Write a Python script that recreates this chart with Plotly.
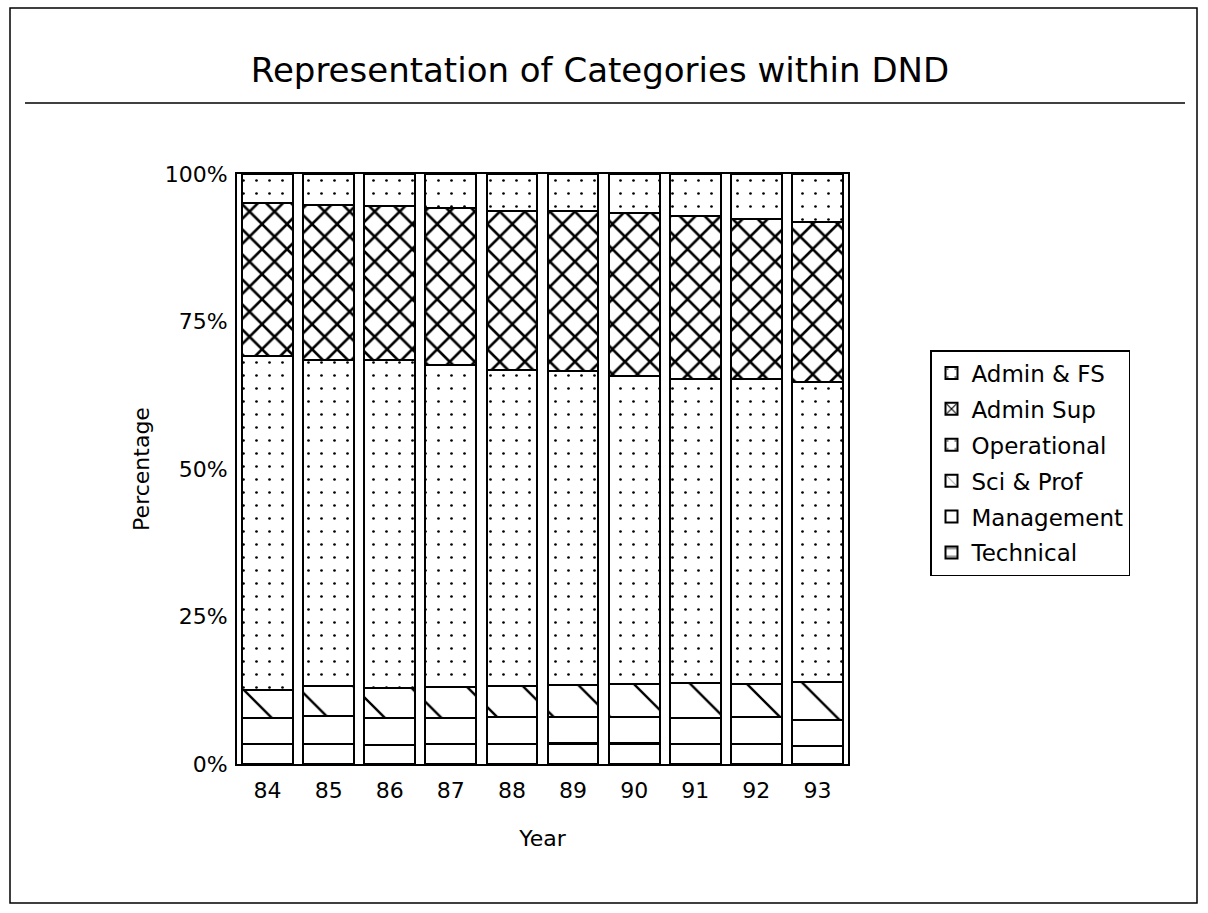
import plotly.graph_objects as go

# Share of each occupational category (percent of DND workforce), by fiscal year
years = ["84", "85", "86", "87", "88", "89", "90", "91", "92", "93"]
technical = [3.4, 3.4, 3.2, 3.4, 3.4, 3.5, 3.5, 3.4, 3.4, 3.0]
management = [4.4, 4.7, 4.6, 4.4, 4.6, 4.4, 4.4, 4.4, 4.5, 4.5]
sci_prof = [4.7, 5.1, 5.1, 5.2, 5.2, 5.4, 5.6, 5.9, 5.7, 6.4]
operational = [56.7, 55.3, 55.6, 54.7, 53.6, 53.2, 52.4, 51.6, 51.7, 50.7]
admin_sup = [25.9, 26.2, 26.1, 26.5, 27.0, 27.1, 27.6, 27.6, 27.1, 27.1]
admin_fs = [4.9, 5.3, 5.5, 5.8, 6.2, 6.3, 6.6, 7.2, 7.6, 8.2]

y_ticks = [0, 25, 50, 75, 100]

FONT = "DejaVu Sans"
W, H = 1208, 913
ML, MR, MT, MB = 237, 360, 174, 149
PW, PH = W - ML - MR, H - MT - MB


def px_x(x):
    return (x - ML) / PW


def px_y(y):
    return (H - MB - y) / PH


# stacked bottom to top; legend lists them top to bottom (rank)
series = [
    ("Technical", technical, dict(shape="-", size=20, solidity=0.1)),
    ("Management", management, None),
    ("Sci & Prof", sci_prof, dict(shape="\\", size=40, solidity=0.06)),
    ("Operational", operational, dict(shape=".", size=13, solidity=0.035)),
    ("Admin Sup", admin_sup, dict(shape="x", size=17.7, solidity=0.27)),
    ("Admin & FS", admin_fs, dict(shape=".", size=13, solidity=0.035)),
]

fig = go.Figure()
for i, (name, vals, pat) in enumerate(series):
    marker = dict(color="white", line=dict(color="black", width=2))
    if pat:
        marker["pattern"] = dict(fillmode="replace", bgcolor="white",
                                 fgcolor="black", fgopacity=1, **pat)
    fig.add_trace(go.Bar(x=years, y=vals, name=name, legendgroup=name,
                         legendrank=1000 - i, marker=marker))

fig.update_layout(
    width=W, height=H,
    margin=dict(l=ML, r=MR, t=MT, b=MB),
    barmode="stack", barnorm="percent", bargap=0.17,
    paper_bgcolor="white", plot_bgcolor="white",
    font=dict(family=FONT, color="black", size=22),
    title=dict(text="Representation of Categories within DND",
               font=dict(family=FONT, size=34, color="black"),
               xref="container", x=600 / W, xanchor="center",
               yref="container", y=1 - 70 / H, yanchor="middle"),
    legend=dict(x=px_x(930), y=px_y(350), xanchor="left", yanchor="top",
                bgcolor="white", bordercolor="black", borderwidth=1.5,
                font=dict(family=FONT, size=23, color="black"),
                traceorder="grouped", tracegroupgap=3,
                itemwidth=30),
    xaxis=dict(type="category", range=[-0.5, 9.5], showline=True,
               linecolor="black", linewidth=2, mirror=True, ticks="",
               showgrid=False, ticklabelstandoff=6,
               title=dict(text="Year", standoff=28,
                          font=dict(family=FONT, size=22))),
    yaxis=dict(range=[0, 100], tickvals=y_ticks,
               ticktext=[f"{v}%" for v in y_ticks], showline=True,
               linecolor="black", linewidth=2, mirror=True, ticks="",
               showgrid=False, zeroline=False, ticklabelstandoff=3,
               title=dict(text="Percentage", standoff=9,
                          font=dict(family=FONT, size=22))),
    shapes=[
        # page frame
        dict(type="rect", xref="paper", yref="paper",
             x0=px_x(10), x1=px_x(1197), y0=px_y(903), y1=px_y(8),
             line=dict(color="black", width=1.5), layer="below"),
        # rule under the title
        dict(type="line", xref="paper", yref="paper",
             x0=px_x(25), x1=px_x(1185), y0=px_y(103), y1=px_y(103),
             line=dict(color="black", width=1.5)),
    ],
)

fig.write_html("out.html")
